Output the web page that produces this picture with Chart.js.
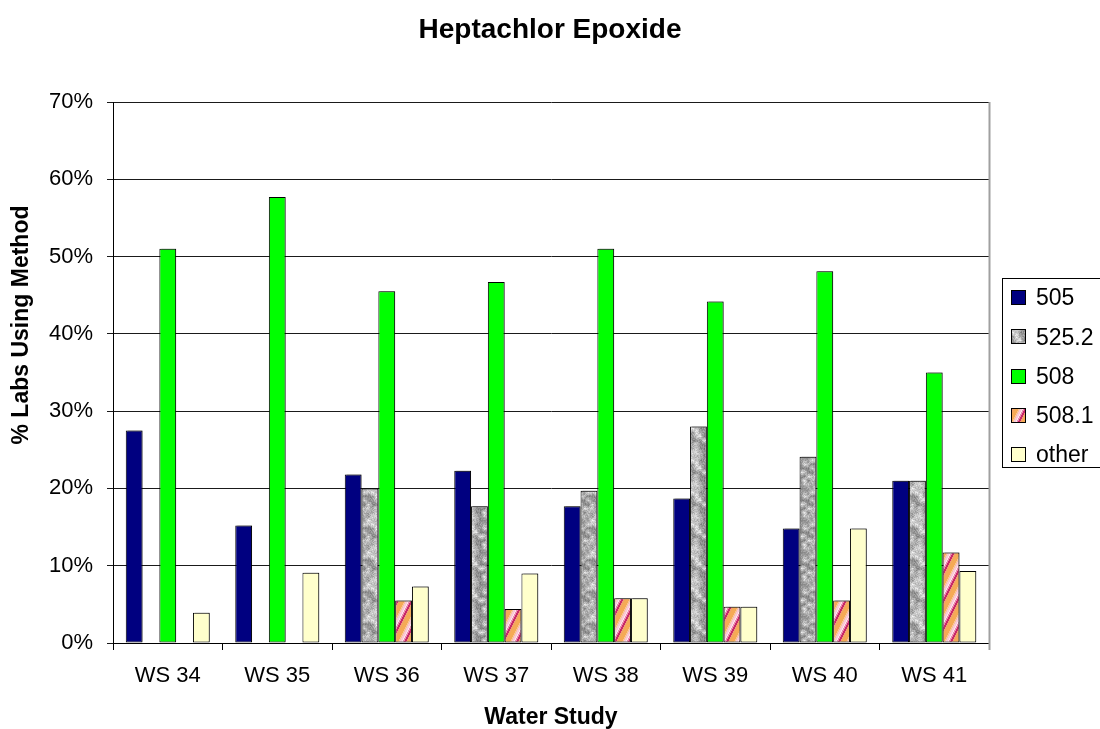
<!DOCTYPE html>
<html>
<head>
<meta charset="utf-8">
<script src="https://cdn.jsdelivr.net/npm/chart.js@4/dist/chart.umd.min.js"></script>
<style>
  html, body { margin: 0; padding: 0; background: #ffffff; }
  #wrap { width: 1100px; height: 729px; }
</style>
</head>
<body>
<div id="wrap"><canvas id="c" width="1100" height="729"></canvas></div>
<script>
// ---------- data ----------
const categories = ['WS 34', 'WS 35', 'WS 36', 'WS 37', 'WS 38', 'WS 39', 'WS 40', 'WS 41'];
const seriesNames = ['505', '525.2', '508', '508.1', 'other'];
const s505   = [27.5, 15.2, 21.8, 22.3, 17.7, 18.7, 14.8, 21.0];
const s5252  = [0, 0, 20.0, 17.7, 19.7, 28.0, 24.1, 21.0];
const s508   = [51.0, 57.7, 45.5, 46.7, 51.0, 44.2, 48.1, 35.0];
const s5081  = [0, 0, 5.5, 4.4, 5.8, 4.7, 5.5, 11.7];
const sOther = [3.9, 9.1, 7.3, 9.0, 5.8, 4.7, 14.8, 9.3];
const yTicks = [0, 10, 20, 30, 40, 50, 60, 70];
const chartTitle = 'Heptachlor Epoxide';
const xTitle = 'Water Study';
const yTitle = '% Labs Using Method';

const FONT = "'Liberation Sans', Arial, Helvetica, sans-serif";

// ---------- fill textures ----------
function hash(i, j) {
  const s = Math.sin(i * 12.9898 + j * 78.233) * 43758.5453;
  return s - Math.floor(s);
}
function granitePattern(ctx) {
  const N = 32, G = 4, cells = N / G;
  const cv = document.createElement('canvas');
  cv.width = N; cv.height = N;
  const c = cv.getContext('2d');
  const img = c.createImageData(N, N);
  for (let y = 0; y < N; y++) {
    for (let x = 0; x < N; x++) {
      const gx = x / G, gy = y / G;
      const i0 = Math.floor(gx), j0 = Math.floor(gy);
      const fx = gx - i0, fy = gy - j0;
      const a = hash(i0 % cells, j0 % cells), b = hash((i0 + 1) % cells, j0 % cells);
      const cc = hash(i0 % cells, (j0 + 1) % cells), d = hash((i0 + 1) % cells, (j0 + 1) % cells);
      const v = (a * (1 - fx) + b * fx) * (1 - fy) + (cc * (1 - fx) + d * fx) * fy;
      const fine = hash(x + 101, y + 57);
      let g = 105 + 150 * (0.7 * v + 0.3 * fine);
      g = Math.max(80, Math.min(245, g));
      const k = (y * N + x) * 4;
      img.data[k] = g; img.data[k + 1] = g; img.data[k + 2] = g; img.data[k + 3] = 255;
    }
  }
  c.putImageData(img, 0, 0);
  return ctx.createPattern(cv, 'repeat');
}
function stripePattern(ctx) {
  const W = 14, H = 28;
  const cv = document.createElement('canvas');
  cv.width = W; cv.height = H;
  const c = cv.getContext('2d');
  const img = c.createImageData(W, H);
  const bands = [
    [0.30, [245, 170, 85]],
    [0.42, [248, 196, 150]],
    [0.55, [250, 200, 215]],
    [0.64, [252, 230, 236]],
    [0.74, [236, 140, 176]],
    [0.86, [200, 40, 105]],
    [1.00, [240, 160, 110]]
  ];
  for (let y = 0; y < H; y++) {
    for (let x = 0; x < W; x++) {
      let p = ((x + y * W / H) % W) / W;
      let col = bands[bands.length - 1][1];
      for (const b of bands) { if (p < b[0]) { col = b[1]; break; } }
      const k = (y * W + x) * 4;
      img.data[k] = col[0]; img.data[k + 1] = col[1]; img.data[k + 2] = col[2]; img.data[k + 3] = 255;
    }
  }
  c.putImageData(img, 0, 0);
  return ctx.createPattern(cv, 'repeat');
}

const canvas = document.getElementById('c');
const ctx0 = canvas.getContext('2d');
const fills = ['#000080', granitePattern(ctx0), '#00ff00', stripePattern(ctx0), '#ffffcc'];
const seriesData = [s505, s5252, s508, s5081, sOther];

// ---------- plugins ----------
const decorPlugin = {
  id: 'decor',
  beforeDatasetsDraw(chart) {
    const c = chart.ctx;
    c.save();
    c.shadowColor = 'rgba(0,0,0,0.28)';
    c.shadowOffsetX = 2;
    c.shadowOffsetY = -1;
    c.shadowBlur = 0;
  },
  afterDatasetsDraw(chart) {
    chart.ctx.restore();
  },
  afterDraw(chart) {
    const c = chart.ctx;
    const a = chart.chartArea;
    c.save();
    // plot area right border
    c.strokeStyle = '#a0a0a0';
    c.lineWidth = 2;
    c.beginPath();
    c.moveTo(a.right + 0.5, a.top);
    c.lineTo(a.right + 0.5, a.bottom + 7);
    c.stroke();

    // y axis title
    c.fillStyle = '#000';
    c.font = 'bold 23px ' + FONT;
    c.textAlign = 'center';
    c.textBaseline = 'middle';
    c.translate(22, 325);
    c.rotate(-Math.PI / 2);
    c.fillText(yTitle, 0, 0);
    c.setTransform(1, 0, 0, 1, 0, 0);

    // legend
    const lx = 1002.5, ly = 278.5, lw = 120, lh = 189;
    c.fillStyle = '#ffffff';
    c.fillRect(lx, ly, lw, lh);
    c.strokeStyle = '#000';
    c.lineWidth = 1;
    c.strokeRect(lx, ly, lw, lh);
    const y0 = 298, dy = 39.25;
    c.font = '23px ' + FONT;
    c.textAlign = 'left';
    c.textBaseline = 'middle';
    chart.data.datasets.forEach((ds, i) => {
      const cy = y0 + i * dy;
      c.fillStyle = ds.backgroundColor;
      c.fillRect(1011, Math.round(cy - 8), 15, 15);
      c.strokeStyle = '#000';
      c.strokeRect(1011.5, Math.round(cy - 8) + 0.5, 14, 14);
      c.fillStyle = '#000';
      c.fillText(ds.label, 1036, cy + 1);
    });
    c.restore();
  }
};

new Chart(canvas, {
  type: 'bar',
  data: {
    labels: categories,
    datasets: seriesNames.map((name, i) => ({
      label: name,
      data: seriesData[i],
      backgroundColor: fills[i],
      borderColor: '#000000',
      borderWidth: 1,
      borderSkipped: false,
      categoryPercentage: 0.767,
      barPercentage: 1.0,
      yAxisID: 'y'
    }))
  },
  options: {
    responsive: false,
    animation: false,
    devicePixelRatio: 1,
    layout: { padding: 0 },
    plugins: {
      legend: { display: false },
      tooltip: { enabled: false },
      title: {
        display: true,
        text: chartTitle,
        color: '#000',
        font: { family: FONT, size: 28, weight: 'bold', lineHeight: 1.2 },
        padding: { top: 13, bottom: 55.4 }
      }
    },
    scales: {
      x: {
        offset: true,
        grid: { display: true, offset: true, drawOnChartArea: false, drawTicks: true, tickLength: 7, color: '#000' },
        border: { display: true, color: '#000', width: 1 },
        ticks: { color: '#000', font: { family: FONT, size: 22 }, padding: 13, maxRotation: 0 },
        title: { display: true, text: xTitle, color: '#000', font: { family: FONT, size: 23, weight: 'bold', lineHeight: 1.0 }, padding: { top: 0, bottom: 0 } },
        afterFit(s) { s.height = 86; }
      },
      y: {
        position: 'left',
        min: 0,
        max: 70,
        afterBuildTicks(s) { s.ticks = yTicks.map(v => ({ value: v })); },
        grid: { color: '#1a1a1a', lineWidth: 1, drawTicks: true, tickLength: 6 },
        border: { display: true, color: '#000', width: 1 },
        ticks: { color: '#000', font: { family: FONT, size: 22 }, padding: 14, callback: v => v + '%' },
        afterFit(s) { s.width = 113; }
      },
      yR: {
        position: 'right',
        display: true,
        min: 0,
        max: 70,
        grid: { display: false, drawTicks: false },
        border: { display: false },
        ticks: { display: false },
        afterFit(s) { s.width = 111; }
      }
    }
  },
  plugins: [decorPlugin]
});
</script>
</body>
</html>
